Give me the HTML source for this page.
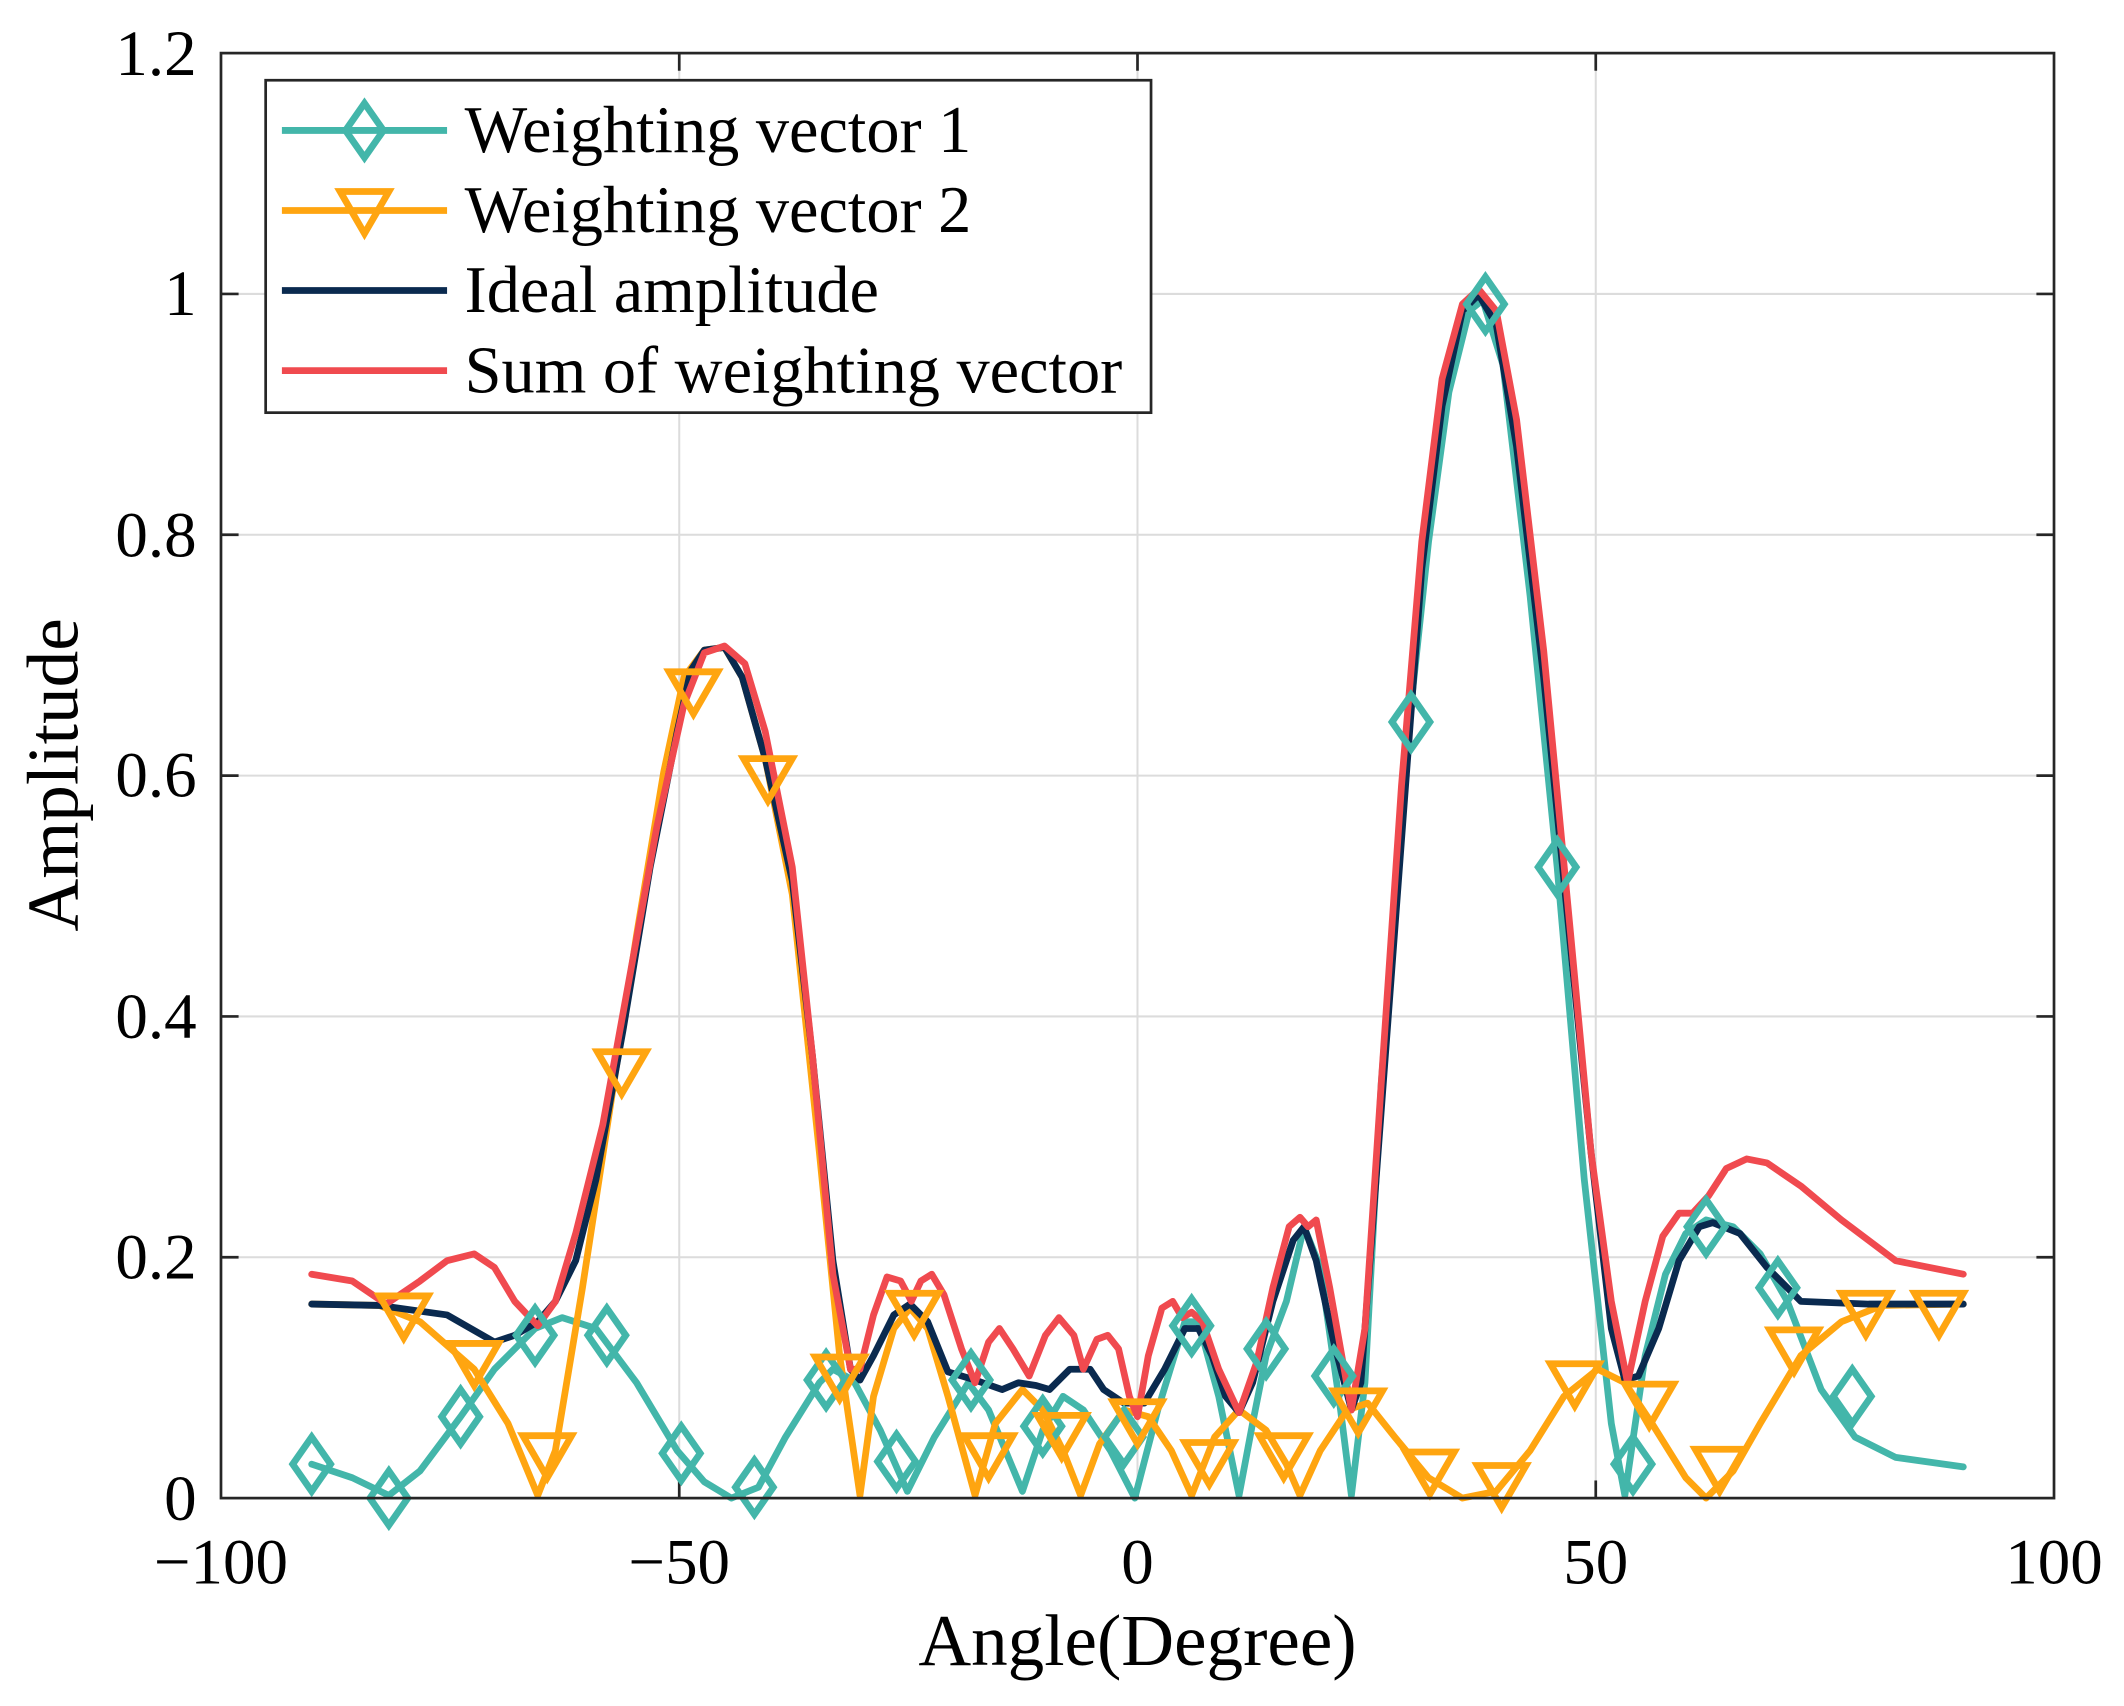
<!DOCTYPE html>
<html><head><meta charset="utf-8"><style>
html,body{margin:0;padding:0;background:#fff}
svg{display:block}
text{font-family:"Liberation Serif",serif;fill:#000}
</style></head><body>
<svg width="2124" height="1706" viewBox="0 0 1560 1253" xmlns="http://www.w3.org/2000/svg">
<defs>
<path id="dm" d="M0,-20 L14,0 L0,20 L-14,0 Z" fill="none" stroke="#43b6aa" stroke-width="5"/>
<path id="tr" d="M-18,-14 L18,-14 L0,17 Z" fill="none" stroke="#ffa510" stroke-width="5"/>
</defs>
<g transform="translate(0.23,-0.86) scale(0.99431,0.99653)">
<rect x="163" y="40" width="1354" height="1065" fill="#fff"/>
<g stroke="#dcdcdc" stroke-width="1.5">
<line x1="501.5" y1="40" x2="501.5" y2="1105"/><line x1="840" y1="40" x2="840" y2="1105"/><line x1="1178.5" y1="40" x2="1178.5" y2="1105"/>
<line x1="163" y1="927.5" x2="1517" y2="927.5"/><line x1="163" y1="750" x2="1517" y2="750"/><line x1="163" y1="572.5" x2="1517" y2="572.5"/><line x1="163" y1="395" x2="1517" y2="395"/><line x1="163" y1="217.5" x2="1517" y2="217.5"/>
</g>
<g stroke="#262626" stroke-width="2">
<line x1="501.5" y1="1105" x2="501.5" y2="1092"/><line x1="840" y1="1105" x2="840" y2="1092"/><line x1="1178.5" y1="1105" x2="1178.5" y2="1092"/>
<line x1="501.5" y1="40" x2="501.5" y2="53"/><line x1="840" y1="40" x2="840" y2="53"/><line x1="1178.5" y1="40" x2="1178.5" y2="53"/>
<line x1="163" y1="927.5" x2="176" y2="927.5"/><line x1="163" y1="750" x2="176" y2="750"/><line x1="163" y1="572.5" x2="176" y2="572.5"/><line x1="163" y1="395" x2="176" y2="395"/><line x1="163" y1="217.5" x2="176" y2="217.5"/>
<line x1="1517" y1="927.5" x2="1504" y2="927.5"/><line x1="1517" y1="750" x2="1504" y2="750"/><line x1="1517" y1="572.5" x2="1504" y2="572.5"/><line x1="1517" y1="395" x2="1504" y2="395"/><line x1="1517" y1="217.5" x2="1504" y2="217.5"/>
</g>
<g fill="none" stroke-width="5" stroke-linejoin="round" stroke-linecap="round">
<polyline stroke="#43b6aa" points="230,1080 260,1090 287,1103 310,1085 340,1045 365,1010 395,980 415,972 440,980 470,1020 500,1070 520,1093 540,1105 560,1097 580,1060 605,1020 615,1010 630,1018 650,1055 670,1100 690,1060 715,1020 730,1040 755,1100 770,1055 785,1030 800,1040 820,1070 838,1105 855,1040 875,975 885,975 900,1030 915,1103 925,1050 935,1000 950,960 963,905 975,935 990,1040 998,1103 1008,1020 1020,800 1040,540 1055,400 1070,290 1085,230 1095,222 1110,270 1130,440 1150,640 1170,870 1190,1050 1200,1103 1215,1000 1230,940 1245,910 1260,900 1280,905 1300,925 1320,960 1345,1025 1370,1060 1400,1075 1450,1082"/>
<polyline stroke="#ffa510" points="230,962 280,963 310,975 350,1010 375,1050 397,1103 410,1070 430,950 450,820 470,690 490,570 505,500 520,480 535,478 548,500 565,560 585,660 605,850 620,1000 635,1103 645,1030 660,980 672,965 685,980 700,1030 720,1103 735,1050 755,1025 770,1040 785,1070 798,1103 812,1065 830,1040 848,1045 865,1070 880,1103 897,1060 915,1040 935,1055 950,1080 960,1103 975,1070 995,1040 1010,1035 1030,1060 1055,1090 1080,1105 1105,1100 1130,1070 1155,1030 1180,1010 1200,1020 1220,1050 1245,1090 1260,1105 1280,1085 1300,1050 1330,1000 1360,975 1390,963 1450,962"/>
<polyline stroke="#0a2a4f" points="230,962 280,963 330,970 365,990 380,985 397,975 410,960 425,930 440,870 460,760 480,640 500,540 510,495 520,480 535,478 548,500 565,560 585,650 600,780 615,930 628,1010 635,1018 645,1000 660,970 672,962 685,975 700,1012 720,1018 740,1025 752,1020 765,1022 775,1025 790,1010 805,1010 815,1025 830,1035 845,1035 860,1010 875,980 885,980 895,1000 905,1030 915,1042 925,1020 940,960 955,915 963,905 972,930 985,990 998,1040 1005,1020 1020,820 1035,620 1050,420 1065,300 1080,230 1092,218 1105,240 1120,330 1140,500 1160,700 1175,850 1190,980 1200,1018 1210,1015 1225,980 1240,930 1255,905 1265,902 1285,910 1305,935 1330,960 1380,962 1450,962"/>
<polyline stroke="#f04a4f" points="230,940 260,945 285,962 310,945 330,930 350,925 365,935 380,960 397,978 410,960 425,910 445,830 465,720 485,610 505,520 520,482 535,477 550,490 565,540 585,640 600,780 615,940 628,1010 635,1010 645,970 655,942 665,945 673,960 680,945 688,940 697,955 710,995 720,1020 730,990 738,980 748,995 760,1015 772,985 782,972 793,985 800,1010 810,988 818,985 826,995 834,1030 840,1045 848,1000 858,965 866,960 873,972 880,968 888,975 900,1010 915,1042 928,1005 940,950 952,905 960,898 966,905 972,900 982,950 998,1040 1008,980 1020,800 1035,580 1050,400 1065,280 1080,225 1092,214 1105,230 1120,310 1140,480 1160,690 1175,850 1190,960 1202,1020 1215,960 1228,912 1240,895 1250,895 1262,882 1275,862 1290,855 1305,858 1330,875 1360,900 1400,930 1450,940"/>
</g>
<g>
<use href="#dm" x="230" y="1080"/><use href="#dm" x="287" y="1105"/><use href="#dm" x="340" y="1045"/><use href="#dm" x="395" y="985"/><use href="#dm" x="448" y="985"/><use href="#dm" x="503" y="1072"/><use href="#dm" x="557" y="1097"/><use href="#dm" x="610" y="1018"/><use href="#dm" x="662" y="1078"/><use href="#dm" x="717" y="1018"/><use href="#dm" x="770" y="1052"/><use href="#dm" x="830" y="1060"/><use href="#dm" x="880" y="978"/><use href="#dm" x="935" y="995"/><use href="#dm" x="985" y="1015"/><use href="#dm" x="1042" y="533"/><use href="#dm" x="1097" y="225"/><use href="#dm" x="1150" y="640"/><use href="#dm" x="1206" y="1080"/><use href="#dm" x="1260" y="905"/><use href="#dm" x="1313" y="950"/><use href="#dm" x="1368" y="1030"/>
<use href="#tr" x="298" y="970"/><use href="#tr" x="350" y="1005"/><use href="#tr" x="404" y="1073"/><use href="#tr" x="459" y="790"/><use href="#tr" x="512" y="510"/><use href="#tr" x="567" y="574"/><use href="#tr" x="620" y="1015"/><use href="#tr" x="675" y="968"/><use href="#tr" x="730" y="1073"/><use href="#tr" x="784" y="1058"/><use href="#tr" x="840" y="1048"/><use href="#tr" x="893" y="1078"/><use href="#tr" x="948" y="1073"/><use href="#tr" x="1003" y="1040"/><use href="#tr" x="1056" y="1085"/><use href="#tr" x="1109" y="1095"/><use href="#tr" x="1163" y="1020"/><use href="#tr" x="1218" y="1035"/><use href="#tr" x="1270" y="1083"/><use href="#tr" x="1325" y="995"/><use href="#tr" x="1378" y="968"/><use href="#tr" x="1432" y="968"/>
</g>
<rect x="163" y="40" width="1354" height="1065" fill="none" stroke="#262626" stroke-width="2"/>
<rect x="196" y="60" width="654" height="245" fill="#fff" stroke="#262626" stroke-width="2"/>
<g stroke-width="5">
<line x1="208" y1="97" x2="330" y2="97" stroke="#43b6aa"/><use href="#dm" x="269" y="97"/>
<line x1="208" y1="156" x2="330" y2="156" stroke="#ffa510"/><use href="#tr" x="269" y="156"/>
<line x1="208" y1="215" x2="330" y2="215" stroke="#0a2a4f"/>
<line x1="208" y1="274" x2="330" y2="274" stroke="#f04a4f"/>
</g>
<g font-size="49">
<text x="343" y="113">Weighting vector 1</text>
<text x="343" y="172">Weighting vector 2</text>
<text x="343" y="231">Ideal amplitude</text>
<text x="343" y="290">Sum of weighting vector</text>
</g>
<g font-size="48" text-anchor="end">
<text x="145" y="1121">0</text><text x="145" y="943">0.2</text><text x="145" y="766">0.4</text><text x="145" y="588">0.6</text><text x="145" y="411">0.8</text><text x="145" y="233">1</text><text x="145" y="56">1.2</text>
</g>
<g font-size="48" text-anchor="middle">
<text x="163" y="1168">−100</text><text x="501.5" y="1168">−50</text><text x="840" y="1168">0</text><text x="1178.5" y="1168">50</text><text x="1517" y="1168">100</text>
</g>
<text x="840" y="1228" font-size="54" text-anchor="middle">Angle(Degree)</text>
<text transform="translate(57,572) rotate(-90)" font-size="54" text-anchor="middle">Amplitude</text>
</g>
</svg>
</body></html>
